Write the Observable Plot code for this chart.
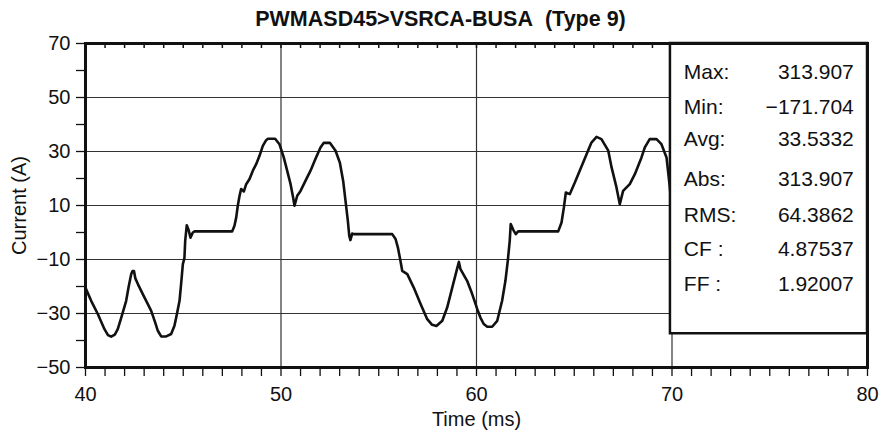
<!DOCTYPE html>
<html>
<head>
<meta charset="utf-8">
<script src="https://cdn.jsdelivr.net/npm/d3@7"></script>
<script src="https://cdn.jsdelivr.net/npm/@observablehq/plot@0.6"></script>
<style>
  body { margin: 0; background: #fff; }
  svg { display: block; }
</style>
</head>
<body>
<div id="chart"></div>
<script>
// ---- data ----
const timeMs = [
  40.00, 40.29, 40.63, 40.97, 41.15, 41.31, 41.50, 41.65, 41.83, 42.08,
  42.20, 42.34, 42.40, 42.48, 42.55, 42.68, 42.93, 43.15, 43.36, 43.55,
  43.70, 43.87, 44.13, 44.38, 44.55, 44.64, 44.81, 44.89, 44.98, 45.06,
  45.10, 45.18, 45.27, 45.37, 45.49, 45.58, 47.50, 47.62, 47.71, 47.79,
  47.88, 47.96, 48.10, 48.22, 48.39, 48.56, 48.73, 48.90, 49.07, 49.24,
  49.33, 49.70, 49.92, 50.14, 50.23, 50.49, 50.62, 50.69, 50.83, 51.00,
  51.25, 51.51, 51.76, 52.02, 52.19, 52.50, 52.79, 53.01, 53.18, 53.30,
  53.42, 53.49, 53.55, 53.64, 53.72, 55.69, 55.86, 55.98, 56.11, 56.20,
  56.46, 56.79, 57.14, 57.48, 57.73, 57.95, 58.25, 58.50, 58.76, 58.98,
  59.10, 59.18, 59.52, 59.78, 60.04, 60.20, 60.37, 60.55, 60.80, 61.06,
  61.31, 61.48, 61.60, 61.70, 61.75, 61.88, 62.01, 62.13, 64.18, 64.35,
  64.47, 64.57, 64.77, 65.03, 65.28, 65.63, 65.88, 66.14, 66.39, 66.74,
  66.91, 67.16, 67.33, 67.50, 67.84, 68.10, 68.44, 68.61, 68.86, 69.21,
  69.46, 69.72, 69.89, 69.98
];
const currentA = [
  -20.5, -25.3, -30.2, -35.8, -38.0, -38.6, -37.8, -35.8, -31.5, -25.3,
  -20.4, -15.4, -14.3, -14.3, -17.0, -19.1, -22.8, -26.0, -29.0, -33.0,
  -36.4, -38.5, -38.5, -37.6, -34.5, -31.5, -25.3, -19.1, -11.7, -9.5,
  -3.1, 2.7, 1.0, -1.9, 0.0, 0.4, 0.4, 2.5, 5.6, 9.9,
  13.6, 16.1, 15.2, 17.9, 19.8, 22.9, 25.3, 28.4, 32.1, 34.2,
  34.7, 34.7, 32.7, 27.8, 25.3, 17.9, 13.0, 9.9, 13.6, 15.4,
  19.1, 22.9, 27.2, 31.5, 33.2, 33.2, 30.3, 25.9, 19.1, 11.7,
  4.3, -1.2, -2.8, -0.4, -0.6, -0.6, -2.4, -5.6, -10.5, -14.2,
  -15.4, -20.4, -26.5, -32.1, -34.2, -34.6, -32.7, -27.8, -20.4, -14.2,
  -10.9, -13.6, -17.9, -22.8, -28.4, -31.5, -33.9, -34.9, -34.9, -32.7,
  -25.3, -17.9, -10.5, -3.1, 3.1, 1.0, -0.6, 0.4, 0.4, 3.7,
  9.3, 14.8, 14.2, 18.5, 22.9, 29.0, 33.3, 35.4, 34.6, 30.3,
  24.1, 16.7, 10.5, 15.4, 17.9, 21.6, 27.8, 31.5, 34.6, 34.6,
  32.7, 27.8, 16.7, 9.3
];
const xDomain = [40, 80];
const yDomain = [-50, 70];
const xLabelTicks = [40, 50, 60, 70, 80];
const xMinorTicks = [40,41,42,43,44,45,46,47,48,49,50,51,52,53,54,55,56,57,58,59,60,61,62,63,64,65,66,67,68,69,70,71,72,73,74,75,76,77,78,79,80];
const yTicks = [-50, -40, -30, -20, -10, 0, 10, 20, 30, 40, 50, 60, 70];
const yLabelTicks = [-50, -30, -10, 10, 30, 50, 70];
const gridYValues = [-30, -10, 10, 30, 50];
const gridXValues = [50, 60, 70];
const statLabels = ["Max:", "Min:", "Avg:", "Abs:", "RMS:", "CF :", "FF :"];
const statValues = ["313.907", "\u2212171.704", "33.5332", "313.907", "64.3862", "4.87537", "1.92007"];
const titleText = "PWMASD45>VSRCA-BUSA\u00a0 (Type 9)";
const xLabel = "Time (ms)";
const yLabel = "Current (A)";

// ---- layout ----
const FONT = "'Liberation Sans', Arial, Helvetica, sans-serif";
const W = 885, H = 433;
const mL = 85, mR = 18, mT = 43, mB = 66;
const frameRightPx = W - mR;
const statRowCenters = [72.2, 107, 138.8, 179, 215, 248.3, 283.3]; // px from page top
const statLabelLeft = 683.3, statValueRight = 853.3;
const statBox = {x1: 69.92, x2: 80, y1: 70, y2: -37.5};

const rows = timeMs.map((t, i) => ({t, a: currentA[i]}));

const statMarks = [];
statLabels.forEach((lab, i) => {
  statMarks.push(Plot.text([lab], {
    text: d => d, frameAnchor: "top-left", dx: statLabelLeft - mL, dy: statRowCenters[i] - mT,
    textAnchor: "start", lineAnchor: "middle", fontSize: 21, fontFamily: FONT, fill: "#111"
  }));
  statMarks.push(Plot.text([statValues[i]], {
    text: d => d, frameAnchor: "top-right", dx: statValueRight - frameRightPx, dy: statRowCenters[i] - mT,
    textAnchor: "end", lineAnchor: "middle", fontSize: 21, fontFamily: FONT, fill: "#111"
  }));
});

const chart = Plot.plot({
  width: W, height: H,
  marginLeft: mL, marginRight: mR, marginTop: mT, marginBottom: mB,
  style: {fontFamily: FONT, background: "#fff", color: "#111", overflow: "visible"},
  x: {domain: xDomain, label: null},
  y: {domain: yDomain, label: null},
  marks: [
    Plot.gridY(gridYValues, {stroke: "#333", strokeOpacity: 1, strokeWidth: 1.2}),
    Plot.gridX(gridXValues, {stroke: "#333", strokeOpacity: 1, strokeWidth: 1.2}),
    Plot.line(rows, {x: "t", y: "a", stroke: "#111", strokeWidth: 2.6, strokeLinejoin: "round", clip: true}),
    Plot.axisX({ticks: xMinorTicks, tickSize: 9, tickPadding: 10, fontSize: 20, strokeWidth: 1.3,
      tickFormat: d => xLabelTicks.includes(d) ? String(d) : "", label: null}),
    Plot.axisX({anchor: "top", ticks: xMinorTicks, tickSize: -4, strokeWidth: 1.5,
      tickFormat: () => "", label: null}),
    Plot.axisY({ticks: yTicks, tickSize: 9, tickPadding: 6, fontSize: 20, strokeWidth: 1.3,
      tickFormat: d => yLabelTicks.includes(d) ? d3.format("")(d).replace("-", "\u2212") : "", label: null}),
    Plot.rect([statBox], {x1: "x1", x2: "x2", y1: "y1", y2: "y2", fill: "#fff", stroke: "#111", strokeWidth: 2.5}),
    ...statMarks,
    Plot.frame({stroke: "#111", strokeWidth: 3}),
    Plot.text([titleText], {text: d => d, frameAnchor: "top", dx: 440 - (mL + frameRightPx) / 2, dy: 19 - mT,
      lineAnchor: "middle", fontSize: 21.5, fontWeight: "bold", fontFamily: FONT, fill: "#111"}),
    Plot.text([yLabel], {text: d => d, frameAnchor: "left", dx: 19 - mL, rotate: -90,
      lineAnchor: "middle", textAnchor: "middle", fontSize: 20, fontFamily: FONT, fill: "#111"}),
    Plot.text([xLabel], {text: d => d, frameAnchor: "bottom", dy: 419 - (H - mB),
      lineAnchor: "middle", textAnchor: "middle", fontSize: 20, fontFamily: FONT, fill: "#111"})
  ]
});
document.getElementById("chart").appendChild(chart);
</script>
</body>
</html>
